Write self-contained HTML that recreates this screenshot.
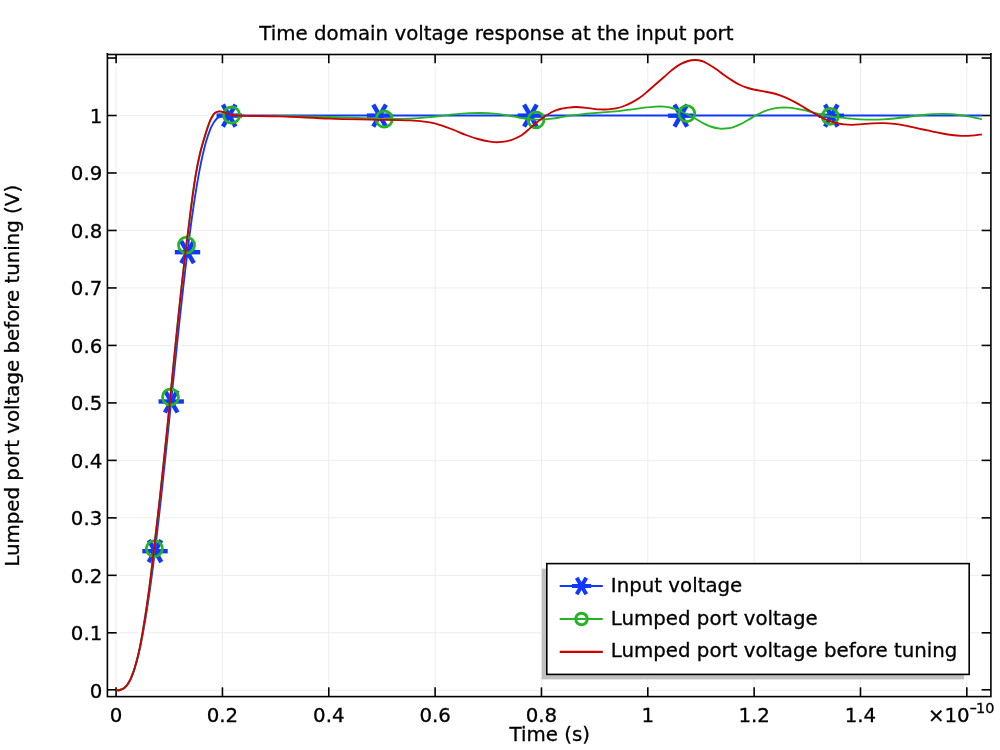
<!DOCTYPE html>
<html lang="en"><head><meta charset="utf-8"><title>Time domain voltage response at the input port</title>
<style>html,body{margin:0;padding:0;background:#fff}svg{display:block;will-change:transform}text{font-family:"DejaVu Sans","Liberation Sans",sans-serif;fill:#000;stroke:#000;stroke-width:0.3px}</style></head><body>
<svg width="1000" height="750" viewBox="0 0 1000 750">
<rect width="1000" height="750" fill="#fff"/>
<g stroke="#ededed" stroke-width="1" fill="none">
<line x1="116.10" y1="65.50" x2="116.10" y2="685.60"/>
<line x1="222.44" y1="65.50" x2="222.44" y2="685.60"/>
<line x1="328.78" y1="65.50" x2="328.78" y2="685.60"/>
<line x1="435.12" y1="65.50" x2="435.12" y2="685.60"/>
<line x1="541.46" y1="65.50" x2="541.46" y2="685.60"/>
<line x1="647.80" y1="65.50" x2="647.80" y2="685.60"/>
<line x1="754.14" y1="65.50" x2="754.14" y2="685.60"/>
<line x1="860.48" y1="65.50" x2="860.48" y2="685.60"/>
<line x1="966.82" y1="65.50" x2="966.82" y2="685.60"/>
<line x1="118.90" y1="690.30" x2="979.40" y2="690.30"/>
<line x1="118.90" y1="632.82" x2="979.40" y2="632.82"/>
<line x1="118.90" y1="575.34" x2="979.40" y2="575.34"/>
<line x1="118.90" y1="517.86" x2="979.40" y2="517.86"/>
<line x1="118.90" y1="460.38" x2="979.40" y2="460.38"/>
<line x1="118.90" y1="402.90" x2="979.40" y2="402.90"/>
<line x1="118.90" y1="345.42" x2="979.40" y2="345.42"/>
<line x1="118.90" y1="287.94" x2="979.40" y2="287.94"/>
<line x1="118.90" y1="230.46" x2="979.40" y2="230.46"/>
<line x1="118.90" y1="172.98" x2="979.40" y2="172.98"/>
<line x1="118.90" y1="115.50" x2="979.40" y2="115.50"/>
<line x1="118.90" y1="58.02" x2="979.40" y2="58.02"/>
</g>
<g fill="none" stroke="#fff" stroke-width="7" stroke-linejoin="round">
<path d="M116.10 690.30 C116.72 690.28 117.35 690.30 117.97 690.25 C118.59 690.21 119.22 690.15 119.84 690.02 C120.47 689.89 121.10 689.71 121.70 689.46 C122.36 689.19 122.99 688.86 123.57 688.46 C124.24 688.00 124.87 687.47 125.44 686.90 C126.12 686.21 126.74 685.47 127.31 684.69 C127.99 683.75 128.61 682.76 129.17 681.75 C129.85 680.53 130.47 679.28 131.04 678.01 C131.72 676.51 132.33 674.98 132.91 673.43 C133.58 671.63 134.20 669.80 134.78 667.96 C135.44 665.85 136.06 663.72 136.64 661.58 C137.31 659.14 137.93 656.70 138.51 654.25 C139.17 651.50 139.79 648.74 140.38 645.98 C141.03 642.91 141.65 639.84 142.25 636.76 C142.90 633.38 143.52 630.00 144.12 626.61 C144.76 622.93 145.38 619.24 145.98 615.55 C146.63 611.57 147.25 607.59 147.85 603.61 C148.49 599.34 149.11 595.08 149.72 590.81 C150.36 586.28 150.98 581.75 151.59 577.21 C152.23 572.43 152.85 567.64 153.45 562.85 C154.09 557.83 154.71 552.81 155.32 547.79 C155.96 542.56 156.58 537.32 157.19 532.09 C157.82 526.66 158.44 521.24 159.06 515.81 C159.69 510.22 160.31 504.62 160.93 499.03 C161.56 493.29 162.18 487.55 162.79 481.81 C163.42 475.95 164.04 470.09 164.66 464.23 C165.29 458.28 165.91 452.33 166.53 446.38 C167.15 440.36 167.78 434.35 168.40 428.33 C169.02 422.27 169.64 416.22 170.26 410.16 C170.89 404.09 171.51 398.03 172.13 391.96 C172.75 385.91 173.37 379.86 174.00 373.81 C174.62 367.80 175.24 361.80 175.87 355.79 C176.49 349.86 177.11 343.92 177.73 337.99 C178.35 332.15 178.97 326.31 179.60 320.48 C180.22 314.77 180.84 309.05 181.47 303.34 C182.08 297.78 182.71 292.22 183.34 286.65 C183.95 281.26 184.57 275.88 185.21 270.49 C185.82 265.29 186.44 260.10 187.07 254.91 C187.68 249.94 188.30 244.96 188.94 239.99 C189.55 235.25 190.17 230.51 190.81 225.78 C191.41 221.30 192.03 216.81 192.68 212.34 C193.28 208.12 193.90 203.92 194.54 199.71 C195.14 195.78 195.77 191.86 196.41 187.94 C197.01 184.31 197.63 180.68 198.28 177.06 C198.88 173.74 199.49 170.42 200.15 167.10 C200.74 164.09 201.36 161.08 202.01 158.07 C202.60 155.37 203.22 152.68 203.88 149.99 C204.47 147.61 205.09 145.23 205.75 142.86 C206.33 140.78 206.95 138.71 207.62 136.66 C208.20 134.88 208.81 133.11 209.49 131.37 C210.06 129.88 210.68 128.41 211.35 126.96 C211.92 125.75 212.54 124.55 213.22 123.40 C213.79 122.43 214.41 121.50 215.09 120.61 C215.66 119.87 216.28 119.18 216.96 118.54 C217.53 118.00 218.16 117.52 218.82 117.10 C219.41 116.73 220.04 116.43 220.69 116.19 C221.29 115.97 221.93 115.82 222.56 115.71 C223.18 115.60 223.80 115.56 224.43 115.53 C225.05 115.49 225.67 115.50 226.29 115.50 C478.16 115.49 730.03 115.50 981.90 115.50"/>
<path d="M116.10 690.30 C116.72 690.28 117.35 690.30 117.97 690.25 C118.59 690.21 119.22 690.15 119.83 690.02 C120.47 689.89 121.10 689.71 121.70 689.46 C122.35 689.19 122.98 688.86 123.56 688.46 C124.23 688.00 124.86 687.47 125.43 686.90 C126.10 686.21 126.72 685.47 127.29 684.69 C127.96 683.75 128.58 682.76 129.14 681.75 C129.82 680.53 130.43 679.28 131.00 678.01 C131.67 676.51 132.28 674.98 132.85 673.43 C133.51 671.63 134.12 669.80 134.69 667.96 C135.35 665.85 135.96 663.72 136.54 661.58 C137.19 659.14 137.81 656.70 138.38 654.25 C139.02 651.50 139.61 648.74 140.16 645.98 C140.77 642.91 141.32 639.84 141.86 636.76 C142.45 633.38 142.99 630.00 143.54 626.61 C144.15 622.93 144.75 619.24 145.33 615.55 C145.95 611.57 146.54 607.59 147.12 603.61 C147.74 599.34 148.34 595.08 148.91 590.81 C149.53 586.28 150.14 581.75 150.70 577.21 C151.29 572.43 151.85 567.64 152.39 562.85 C152.97 557.83 153.48 552.81 154.06 547.79 C154.66 542.55 155.30 537.32 155.92 532.09 C156.56 526.66 157.20 521.24 157.82 515.81 C158.47 510.22 159.10 504.62 159.73 499.03 C160.36 493.29 160.98 487.55 161.60 481.81 C162.24 475.95 162.86 470.09 163.48 464.23 C164.12 458.28 164.74 452.33 165.36 446.38 C165.99 440.36 166.63 434.35 167.24 428.33 C167.86 422.27 168.45 416.22 169.04 410.16 C169.64 404.10 170.23 398.03 170.83 391.96 C171.42 385.91 172.01 379.86 172.61 373.81 C173.20 367.80 173.79 361.80 174.39 355.79 C174.99 349.86 175.58 343.92 176.19 337.99 C176.78 332.15 177.38 326.31 177.98 320.48 C178.58 314.77 179.18 309.05 179.78 303.34 C180.38 297.78 180.97 292.22 181.58 286.65 C182.18 281.26 182.77 275.88 183.39 270.49 C183.98 265.29 184.58 260.10 185.19 254.91 C185.78 249.94 186.38 244.96 187.00 239.99 C187.59 235.25 188.22 230.52 188.81 225.78 C189.37 221.30 189.88 216.82 190.44 212.34 C190.97 208.13 191.51 203.92 192.08 199.71 C192.60 195.78 193.14 191.86 193.71 187.94 C194.24 184.31 194.76 180.68 195.36 177.06 C195.91 173.73 196.51 170.41 197.15 167.10 C197.73 164.08 198.36 161.08 199.01 158.07 C199.60 155.37 200.15 152.66 200.88 149.99 C202.48 144.17 204.22 138.38 206.00 132.60 C206.99 129.38 207.97 126.14 209.20 123.00 C210.11 120.67 211.09 118.33 212.40 116.20 C213.24 114.83 214.26 113.49 215.60 112.60 C216.76 111.83 218.21 111.47 219.60 111.40 C220.96 111.33 222.30 111.81 223.60 112.20 C224.98 112.61 226.23 113.36 227.60 113.80 C229.17 114.30 230.77 114.72 232.40 115.00 C234.25 115.32 236.13 115.47 238.00 115.60 C240.00 115.74 242.00 115.78 244.00 115.80 C256.00 115.91 268.00 115.83 280.00 116.00 C296.67 116.23 313.34 116.56 330.00 117.00 C343.34 117.36 356.67 117.91 370.00 118.40 C374.67 118.57 379.33 118.98 384.00 119.00 C392.67 119.04 401.34 118.94 410.00 118.60 C416.68 118.34 423.34 117.78 430.00 117.20 C434.01 116.85 438.00 116.27 442.00 115.80 C446.00 115.33 449.99 114.77 454.00 114.40 C459.33 113.91 464.66 113.47 470.00 113.20 C474.00 113.00 478.00 112.93 482.00 113.00 C486.00 113.07 490.01 113.23 494.00 113.60 C498.02 113.97 502.01 114.57 506.00 115.20 C510.02 115.84 513.99 116.71 518.00 117.40 C521.33 117.97 524.65 118.59 528.00 119.00 C530.65 119.32 533.33 119.53 536.00 119.60 C538.67 119.67 541.34 119.57 544.00 119.40 C546.67 119.23 549.34 118.93 552.00 118.60 C554.68 118.27 557.34 117.83 560.00 117.40 C562.67 116.97 565.33 116.43 568.00 116.00 C570.66 115.57 573.32 115.13 576.00 114.80 C578.66 114.47 581.33 114.24 584.00 114.00 C589.33 113.51 594.66 113.03 600.00 112.60 C605.33 112.17 610.68 111.93 616.00 111.40 C621.35 110.87 626.67 110.12 632.00 109.40 C636.01 108.86 639.98 108.07 644.00 107.60 C647.99 107.13 651.99 106.80 656.00 106.60 C658.66 106.47 661.34 106.37 664.00 106.60 C666.70 106.84 669.39 107.28 672.00 108.00 C674.75 108.76 677.37 109.91 680.00 111.00 C682.70 112.12 685.38 113.29 688.00 114.60 C690.72 115.96 693.35 117.51 696.00 119.00 C698.68 120.51 701.25 122.22 704.00 123.60 C706.59 124.90 709.23 126.14 712.00 127.00 C714.60 127.81 717.30 128.24 720.00 128.60 C721.32 128.78 722.67 128.71 724.00 128.60 C726.68 128.38 729.40 128.28 732.00 127.60 C734.78 126.87 737.41 125.63 740.00 124.40 C742.75 123.09 745.35 121.49 748.00 120.00 C750.68 118.49 753.29 116.86 756.00 115.40 C758.63 113.99 761.24 112.54 764.00 111.40 C766.59 110.33 769.27 109.45 772.00 108.80 C774.62 108.18 777.31 107.80 780.00 107.60 C782.66 107.40 785.34 107.43 788.00 107.60 C790.68 107.77 793.35 108.17 796.00 108.60 C798.68 109.04 801.35 109.60 804.00 110.20 C806.68 110.80 809.33 111.53 812.00 112.20 C814.67 112.87 817.33 113.56 820.00 114.20 C822.66 114.83 825.31 115.50 828.00 116.00 C830.65 116.50 833.32 116.89 836.00 117.20 C840.52 117.72 845.06 118.10 849.60 118.50 C853.06 118.80 856.53 119.13 860.00 119.30 C864.00 119.50 868.00 119.60 872.00 119.60 C875.73 119.60 879.47 119.48 883.20 119.30 C886.94 119.12 890.67 118.84 894.40 118.50 C897.61 118.21 900.80 117.80 904.00 117.40 C907.20 117.00 910.40 116.50 913.60 116.10 C916.80 115.70 919.99 115.32 923.20 115.00 C926.40 114.68 929.60 114.40 932.80 114.20 C936.00 114.00 939.20 113.80 942.40 113.80 C945.60 113.80 948.81 113.95 952.00 114.20 C955.21 114.45 958.41 114.85 961.60 115.30 C964.81 115.75 968.02 116.27 971.20 116.90 C974.79 117.61 978.33 118.50 981.90 119.30"/>
<path d="M116.10 690.30 C116.72 690.28 117.35 690.30 117.97 690.25 C118.59 690.21 119.22 690.15 119.83 690.02 C120.47 689.89 121.10 689.71 121.70 689.46 C122.35 689.19 122.98 688.86 123.56 688.46 C124.23 688.00 124.86 687.47 125.43 686.90 C126.10 686.21 126.72 685.47 127.29 684.69 C127.96 683.75 128.58 682.76 129.14 681.75 C129.82 680.53 130.43 679.28 131.00 678.01 C131.67 676.51 132.28 674.98 132.85 673.43 C133.51 671.63 134.12 669.80 134.69 667.96 C135.35 665.85 135.96 663.72 136.54 661.58 C137.19 659.14 137.81 656.70 138.38 654.25 C139.02 651.50 139.61 648.74 140.16 645.98 C140.77 642.91 141.32 639.84 141.86 636.76 C142.45 633.38 142.99 630.00 143.54 626.61 C144.15 622.93 144.75 619.24 145.33 615.55 C145.95 611.57 146.54 607.59 147.12 603.61 C147.74 599.34 148.34 595.08 148.91 590.81 C149.53 586.28 150.14 581.75 150.70 577.21 C151.29 572.43 151.85 567.64 152.39 562.85 C152.97 557.83 153.48 552.81 154.06 547.79 C154.66 542.55 155.30 537.32 155.92 532.09 C156.56 526.66 157.20 521.24 157.82 515.81 C158.47 510.22 159.10 504.62 159.73 499.03 C160.36 493.29 160.98 487.55 161.60 481.81 C162.24 475.95 162.86 470.09 163.48 464.23 C164.12 458.28 164.74 452.33 165.36 446.38 C165.99 440.36 166.63 434.35 167.24 428.33 C167.86 422.27 168.45 416.22 169.04 410.16 C169.64 404.10 170.23 398.03 170.83 391.96 C171.42 385.91 172.01 379.86 172.61 373.81 C173.20 367.80 173.79 361.80 174.39 355.79 C174.99 349.86 175.58 343.92 176.19 337.99 C176.78 332.15 177.38 326.31 177.98 320.48 C178.58 314.77 179.18 309.05 179.78 303.34 C180.38 297.78 180.97 292.22 181.58 286.65 C182.18 281.26 182.77 275.88 183.39 270.49 C183.98 265.29 184.58 260.10 185.19 254.91 C185.78 249.94 186.38 244.96 187.00 239.99 C187.59 235.25 188.22 230.52 188.81 225.78 C189.37 221.30 189.88 216.82 190.44 212.34 C190.97 208.13 191.51 203.92 192.08 199.71 C192.60 195.78 193.14 191.86 193.71 187.94 C194.24 184.31 194.76 180.68 195.36 177.06 C195.91 173.73 196.51 170.41 197.15 167.10 C197.73 164.08 198.36 161.08 199.01 158.07 C199.60 155.37 200.15 152.66 200.88 149.99 C202.48 144.17 204.22 138.38 206.00 132.60 C206.99 129.38 207.97 126.14 209.20 123.00 C210.11 120.67 211.09 118.33 212.40 116.20 C213.24 114.83 214.26 113.49 215.60 112.60 C216.76 111.83 218.21 111.47 219.60 111.40 C220.96 111.33 222.30 111.81 223.60 112.20 C224.98 112.61 226.23 113.36 227.60 113.80 C229.17 114.30 230.77 114.72 232.40 115.00 C234.25 115.32 236.13 115.49 238.00 115.60 C240.66 115.76 243.33 115.75 246.00 115.80 C257.33 116.02 268.67 116.02 280.00 116.40 C296.67 116.96 313.33 118.01 330.00 118.60 C343.33 119.07 356.67 119.30 370.00 119.60 C383.33 119.90 396.68 119.78 410.00 120.40 C416.69 120.71 423.39 121.33 430.00 122.40 C434.09 123.06 438.05 124.35 442.00 125.60 C446.06 126.89 450.03 128.45 454.00 130.00 C458.03 131.58 461.94 133.48 466.00 135.00 C469.95 136.48 473.93 137.88 478.00 139.00 C481.95 140.09 485.96 140.95 490.00 141.60 C492.64 142.02 495.33 142.23 498.00 142.20 C500.68 142.17 503.37 141.93 506.00 141.40 C508.73 140.85 511.42 140.03 514.00 139.00 C516.77 137.89 519.49 136.61 522.00 135.00 C524.19 133.59 526.02 131.69 528.00 130.00 C530.69 127.69 533.25 125.23 536.00 123.00 C538.59 120.90 541.25 118.89 544.00 117.00 C546.59 115.22 549.19 113.41 552.00 112.00 C554.55 110.73 557.25 109.76 560.00 109.00 C562.61 108.28 565.31 107.94 568.00 107.60 C570.65 107.27 573.33 107.00 576.00 107.00 C578.67 107.00 581.34 107.33 584.00 107.60 C586.67 107.87 589.33 108.30 592.00 108.60 C594.66 108.90 597.32 109.27 600.00 109.40 C602.66 109.53 605.34 109.57 608.00 109.40 C610.68 109.23 613.37 108.96 616.00 108.40 C618.72 107.82 621.39 106.98 624.00 106.00 C626.74 104.97 629.41 103.76 632.00 102.40 C634.75 100.95 637.47 99.40 640.00 97.60 C642.82 95.59 645.37 93.24 648.00 91.00 C650.70 88.71 653.33 86.33 656.00 84.00 C658.67 81.67 661.33 79.33 664.00 77.00 C666.67 74.67 669.22 72.19 672.00 70.00 C674.56 67.99 677.16 66.00 680.00 64.40 C682.53 62.98 685.22 61.82 688.00 61.00 C690.26 60.34 692.64 60.00 695.00 60.00 C697.36 60.00 699.75 60.31 702.00 61.00 C704.14 61.66 706.06 62.89 708.00 64.00 C710.73 65.56 713.41 67.22 716.00 69.00 C718.75 70.89 721.29 73.07 724.00 75.00 C726.62 76.87 729.27 78.69 732.00 80.40 C734.61 82.03 737.22 83.68 740.00 85.00 C742.57 86.22 745.28 87.15 748.00 88.00 C750.62 88.82 753.31 89.43 756.00 90.00 C758.65 90.56 761.34 90.90 764.00 91.40 C766.67 91.90 769.36 92.34 772.00 93.00 C774.70 93.68 777.37 94.48 780.00 95.40 C782.71 96.35 785.38 97.42 788.00 98.60 C790.72 99.82 793.39 101.16 796.00 102.60 C798.72 104.10 801.32 105.82 804.00 107.40 C806.65 108.96 809.33 110.47 812.00 112.00 C814.67 113.53 817.28 115.17 820.00 116.60 C822.61 117.97 825.26 119.30 828.00 120.40 C830.60 121.44 833.28 122.32 836.00 123.00 C838.63 123.66 841.31 124.10 844.00 124.40 C846.65 124.70 849.33 124.80 852.00 124.80 C854.67 124.80 857.34 124.59 860.00 124.40 C864.00 124.12 867.99 123.62 872.00 123.40 C875.73 123.19 879.47 123.02 883.20 123.10 C886.94 123.18 890.68 123.49 894.40 123.90 C897.62 124.26 900.81 124.82 904.00 125.40 C907.22 125.99 910.40 126.72 913.60 127.40 C916.80 128.08 920.00 128.80 923.20 129.50 C926.40 130.20 929.59 130.93 932.80 131.60 C935.99 132.27 939.19 132.93 942.40 133.50 C945.59 134.06 948.78 134.61 952.00 135.00 C955.19 135.38 958.39 135.62 961.60 135.80 C963.73 135.92 965.87 135.97 968.00 135.90 C970.14 135.83 972.27 135.64 974.40 135.40 C976.91 135.11 979.40 134.67 981.90 134.30"/>
</g>
<g fill="#fff">
<circle cx="155.0" cy="551.2" r="14.5"/>
<circle cx="171.2" cy="401.5" r="14.5"/>
<circle cx="187.5" cy="252.2" r="14.5"/>
<circle cx="229.2" cy="115.6" r="14.5"/>
<circle cx="379.6" cy="115.6" r="14.5"/>
<circle cx="530.4" cy="115.6" r="14.5"/>
<circle cx="680.8" cy="115.7" r="14.5"/>
<circle cx="831.3" cy="115.7" r="14.5"/>
<circle cx="154.4" cy="548.6" r="11.5"/>
<circle cx="170.5" cy="397.0" r="11.5"/>
<circle cx="186.5" cy="245.2" r="11.5"/>
<circle cx="231.6" cy="115.0" r="11.5"/>
<circle cx="384.2" cy="119.0" r="11.5"/>
<circle cx="536.0" cy="119.8" r="11.5"/>
<circle cx="686.8" cy="113.6" r="11.5"/>
<circle cx="830.2" cy="116.4" r="11.5"/>
</g>
<g stroke="#000" stroke-width="1.6" fill="none" stroke-linecap="butt">
<rect x="107.40" y="54.50" width="883.50" height="642.10"/>
<line x1="107.40" y1="52.90" x2="107.40" y2="54.50"/>
<line x1="990.90" y1="52.90" x2="990.90" y2="54.50"/>
<line x1="116.10" y1="54.50" x2="116.10" y2="63.30"/>
<line x1="116.10" y1="696.60" x2="116.10" y2="687.30"/>
<line x1="222.44" y1="54.50" x2="222.44" y2="63.30"/>
<line x1="222.44" y1="696.60" x2="222.44" y2="687.30"/>
<line x1="328.78" y1="54.50" x2="328.78" y2="63.30"/>
<line x1="328.78" y1="696.60" x2="328.78" y2="687.30"/>
<line x1="435.12" y1="54.50" x2="435.12" y2="63.30"/>
<line x1="435.12" y1="696.60" x2="435.12" y2="687.30"/>
<line x1="541.46" y1="54.50" x2="541.46" y2="63.30"/>
<line x1="541.46" y1="696.60" x2="541.46" y2="687.30"/>
<line x1="647.80" y1="54.50" x2="647.80" y2="63.30"/>
<line x1="647.80" y1="696.60" x2="647.80" y2="687.30"/>
<line x1="754.14" y1="54.50" x2="754.14" y2="63.30"/>
<line x1="754.14" y1="696.60" x2="754.14" y2="687.30"/>
<line x1="860.48" y1="54.50" x2="860.48" y2="63.30"/>
<line x1="860.48" y1="696.60" x2="860.48" y2="687.30"/>
<line x1="966.82" y1="54.50" x2="966.82" y2="63.30"/>
<line x1="966.82" y1="696.60" x2="966.82" y2="687.30"/>
<line x1="107.40" y1="689.80" x2="116.70" y2="689.80"/>
<line x1="990.90" y1="689.80" x2="981.60" y2="689.80"/>
<line x1="107.40" y1="632.82" x2="116.70" y2="632.82"/>
<line x1="990.90" y1="632.82" x2="981.60" y2="632.82"/>
<line x1="107.40" y1="575.34" x2="116.70" y2="575.34"/>
<line x1="990.90" y1="575.34" x2="981.60" y2="575.34"/>
<line x1="107.40" y1="517.86" x2="116.70" y2="517.86"/>
<line x1="990.90" y1="517.86" x2="981.60" y2="517.86"/>
<line x1="107.40" y1="460.38" x2="116.70" y2="460.38"/>
<line x1="990.90" y1="460.38" x2="981.60" y2="460.38"/>
<line x1="107.40" y1="402.90" x2="116.70" y2="402.90"/>
<line x1="990.90" y1="402.90" x2="981.60" y2="402.90"/>
<line x1="107.40" y1="345.42" x2="116.70" y2="345.42"/>
<line x1="990.90" y1="345.42" x2="981.60" y2="345.42"/>
<line x1="107.40" y1="287.94" x2="116.70" y2="287.94"/>
<line x1="990.90" y1="287.94" x2="981.60" y2="287.94"/>
<line x1="107.40" y1="230.46" x2="116.70" y2="230.46"/>
<line x1="990.90" y1="230.46" x2="981.60" y2="230.46"/>
<line x1="107.40" y1="172.98" x2="116.70" y2="172.98"/>
<line x1="990.90" y1="172.98" x2="981.60" y2="172.98"/>
<line x1="107.40" y1="115.50" x2="116.70" y2="115.50"/>
<line x1="990.90" y1="115.50" x2="981.60" y2="115.50"/>
<line x1="107.40" y1="58.02" x2="116.70" y2="58.02"/>
<line x1="990.90" y1="58.02" x2="981.60" y2="58.02"/>
</g>
<path d="M116.10 690.30 C116.72 690.28 117.35 690.30 117.97 690.25 C118.59 690.21 119.22 690.15 119.84 690.02 C120.47 689.89 121.10 689.71 121.70 689.46 C122.36 689.19 122.99 688.86 123.57 688.46 C124.24 688.00 124.87 687.47 125.44 686.90 C126.12 686.21 126.74 685.47 127.31 684.69 C127.99 683.75 128.61 682.76 129.17 681.75 C129.85 680.53 130.47 679.28 131.04 678.01 C131.72 676.51 132.33 674.98 132.91 673.43 C133.58 671.63 134.20 669.80 134.78 667.96 C135.44 665.85 136.06 663.72 136.64 661.58 C137.31 659.14 137.93 656.70 138.51 654.25 C139.17 651.50 139.79 648.74 140.38 645.98 C141.03 642.91 141.65 639.84 142.25 636.76 C142.90 633.38 143.52 630.00 144.12 626.61 C144.76 622.93 145.38 619.24 145.98 615.55 C146.63 611.57 147.25 607.59 147.85 603.61 C148.49 599.34 149.11 595.08 149.72 590.81 C150.36 586.28 150.98 581.75 151.59 577.21 C152.23 572.43 152.85 567.64 153.45 562.85 C154.09 557.83 154.71 552.81 155.32 547.79 C155.96 542.56 156.58 537.32 157.19 532.09 C157.82 526.66 158.44 521.24 159.06 515.81 C159.69 510.22 160.31 504.62 160.93 499.03 C161.56 493.29 162.18 487.55 162.79 481.81 C163.42 475.95 164.04 470.09 164.66 464.23 C165.29 458.28 165.91 452.33 166.53 446.38 C167.15 440.36 167.78 434.35 168.40 428.33 C169.02 422.27 169.64 416.22 170.26 410.16 C170.89 404.09 171.51 398.03 172.13 391.96 C172.75 385.91 173.37 379.86 174.00 373.81 C174.62 367.80 175.24 361.80 175.87 355.79 C176.49 349.86 177.11 343.92 177.73 337.99 C178.35 332.15 178.97 326.31 179.60 320.48 C180.22 314.77 180.84 309.05 181.47 303.34 C182.08 297.78 182.71 292.22 183.34 286.65 C183.95 281.26 184.57 275.88 185.21 270.49 C185.82 265.29 186.44 260.10 187.07 254.91 C187.68 249.94 188.30 244.96 188.94 239.99 C189.55 235.25 190.17 230.51 190.81 225.78 C191.41 221.30 192.03 216.81 192.68 212.34 C193.28 208.12 193.90 203.92 194.54 199.71 C195.14 195.78 195.77 191.86 196.41 187.94 C197.01 184.31 197.63 180.68 198.28 177.06 C198.88 173.74 199.49 170.42 200.15 167.10 C200.74 164.09 201.36 161.08 202.01 158.07 C202.60 155.37 203.22 152.68 203.88 149.99 C204.47 147.61 205.09 145.23 205.75 142.86 C206.33 140.78 206.95 138.71 207.62 136.66 C208.20 134.88 208.81 133.11 209.49 131.37 C210.06 129.88 210.68 128.41 211.35 126.96 C211.92 125.75 212.54 124.55 213.22 123.40 C213.79 122.43 214.41 121.50 215.09 120.61 C215.66 119.87 216.28 119.18 216.96 118.54 C217.53 118.00 218.16 117.52 218.82 117.10 C219.41 116.73 220.04 116.43 220.69 116.19 C221.29 115.97 221.93 115.82 222.56 115.71 C223.18 115.60 223.80 115.56 224.43 115.53 C225.05 115.49 225.67 115.50 226.29 115.50 C478.16 115.49 730.03 115.50 981.90 115.50" fill="none" stroke="#1038ff" stroke-width="1.85" stroke-linejoin="round"/>
<g stroke="#1038ff" stroke-width="4.4" stroke-linecap="butt"><line x1="142.30" y1="551.20" x2="167.70" y2="551.20"/><line x1="148.65" y1="540.20" x2="161.35" y2="562.20"/><line x1="161.35" y1="540.20" x2="148.65" y2="562.20"/></g>
<g stroke="#1038ff" stroke-width="4.4" stroke-linecap="butt"><line x1="158.50" y1="401.50" x2="183.90" y2="401.50"/><line x1="164.85" y1="390.50" x2="177.55" y2="412.50"/><line x1="177.55" y1="390.50" x2="164.85" y2="412.50"/></g>
<g stroke="#1038ff" stroke-width="4.4" stroke-linecap="butt"><line x1="174.80" y1="252.20" x2="200.20" y2="252.20"/><line x1="181.15" y1="241.20" x2="193.85" y2="263.20"/><line x1="193.85" y1="241.20" x2="181.15" y2="263.20"/></g>
<g stroke="#1038ff" stroke-width="4.4" stroke-linecap="butt"><line x1="216.50" y1="115.60" x2="241.90" y2="115.60"/><line x1="222.85" y1="104.60" x2="235.55" y2="126.60"/><line x1="235.55" y1="104.60" x2="222.85" y2="126.60"/></g>
<g stroke="#1038ff" stroke-width="4.4" stroke-linecap="butt"><line x1="366.90" y1="115.60" x2="392.30" y2="115.60"/><line x1="373.25" y1="104.60" x2="385.95" y2="126.60"/><line x1="385.95" y1="104.60" x2="373.25" y2="126.60"/></g>
<g stroke="#1038ff" stroke-width="4.4" stroke-linecap="butt"><line x1="517.70" y1="115.60" x2="543.10" y2="115.60"/><line x1="524.05" y1="104.60" x2="536.75" y2="126.60"/><line x1="536.75" y1="104.60" x2="524.05" y2="126.60"/></g>
<g stroke="#1038ff" stroke-width="4.4" stroke-linecap="butt"><line x1="668.10" y1="115.70" x2="693.50" y2="115.70"/><line x1="674.45" y1="104.70" x2="687.15" y2="126.70"/><line x1="687.15" y1="104.70" x2="674.45" y2="126.70"/></g>
<g stroke="#1038ff" stroke-width="4.4" stroke-linecap="butt"><line x1="818.60" y1="115.70" x2="844.00" y2="115.70"/><line x1="824.95" y1="104.70" x2="837.65" y2="126.70"/><line x1="837.65" y1="104.70" x2="824.95" y2="126.70"/></g>
<path d="M116.10 690.30 C116.72 690.28 117.35 690.30 117.97 690.25 C118.59 690.21 119.22 690.15 119.83 690.02 C120.47 689.89 121.10 689.71 121.70 689.46 C122.35 689.19 122.98 688.86 123.56 688.46 C124.23 688.00 124.86 687.47 125.43 686.90 C126.10 686.21 126.72 685.47 127.29 684.69 C127.96 683.75 128.58 682.76 129.14 681.75 C129.82 680.53 130.43 679.28 131.00 678.01 C131.67 676.51 132.28 674.98 132.85 673.43 C133.51 671.63 134.12 669.80 134.69 667.96 C135.35 665.85 135.96 663.72 136.54 661.58 C137.19 659.14 137.81 656.70 138.38 654.25 C139.02 651.50 139.61 648.74 140.16 645.98 C140.77 642.91 141.32 639.84 141.86 636.76 C142.45 633.38 142.99 630.00 143.54 626.61 C144.15 622.93 144.75 619.24 145.33 615.55 C145.95 611.57 146.54 607.59 147.12 603.61 C147.74 599.34 148.34 595.08 148.91 590.81 C149.53 586.28 150.14 581.75 150.70 577.21 C151.29 572.43 151.85 567.64 152.39 562.85 C152.97 557.83 153.48 552.81 154.06 547.79 C154.66 542.55 155.30 537.32 155.92 532.09 C156.56 526.66 157.20 521.24 157.82 515.81 C158.47 510.22 159.10 504.62 159.73 499.03 C160.36 493.29 160.98 487.55 161.60 481.81 C162.24 475.95 162.86 470.09 163.48 464.23 C164.12 458.28 164.74 452.33 165.36 446.38 C165.99 440.36 166.63 434.35 167.24 428.33 C167.86 422.27 168.45 416.22 169.04 410.16 C169.64 404.10 170.23 398.03 170.83 391.96 C171.42 385.91 172.01 379.86 172.61 373.81 C173.20 367.80 173.79 361.80 174.39 355.79 C174.99 349.86 175.58 343.92 176.19 337.99 C176.78 332.15 177.38 326.31 177.98 320.48 C178.58 314.77 179.18 309.05 179.78 303.34 C180.38 297.78 180.97 292.22 181.58 286.65 C182.18 281.26 182.77 275.88 183.39 270.49 C183.98 265.29 184.58 260.10 185.19 254.91 C185.78 249.94 186.38 244.96 187.00 239.99 C187.59 235.25 188.22 230.52 188.81 225.78 C189.37 221.30 189.88 216.82 190.44 212.34 C190.97 208.13 191.51 203.92 192.08 199.71 C192.60 195.78 193.14 191.86 193.71 187.94 C194.24 184.31 194.76 180.68 195.36 177.06 C195.91 173.73 196.51 170.41 197.15 167.10 C197.73 164.08 198.36 161.08 199.01 158.07 C199.60 155.37 200.15 152.66 200.88 149.99 C202.48 144.17 204.22 138.38 206.00 132.60 C206.99 129.38 207.97 126.14 209.20 123.00 C210.11 120.67 211.09 118.33 212.40 116.20 C213.24 114.83 214.26 113.49 215.60 112.60 C216.76 111.83 218.21 111.47 219.60 111.40 C220.96 111.33 222.30 111.81 223.60 112.20 C224.98 112.61 226.23 113.36 227.60 113.80 C229.17 114.30 230.77 114.72 232.40 115.00 C234.25 115.32 236.13 115.47 238.00 115.60 C240.00 115.74 242.00 115.78 244.00 115.80 C256.00 115.91 268.00 115.83 280.00 116.00 C296.67 116.23 313.34 116.56 330.00 117.00 C343.34 117.36 356.67 117.91 370.00 118.40 C374.67 118.57 379.33 118.98 384.00 119.00 C392.67 119.04 401.34 118.94 410.00 118.60 C416.68 118.34 423.34 117.78 430.00 117.20 C434.01 116.85 438.00 116.27 442.00 115.80 C446.00 115.33 449.99 114.77 454.00 114.40 C459.33 113.91 464.66 113.47 470.00 113.20 C474.00 113.00 478.00 112.93 482.00 113.00 C486.00 113.07 490.01 113.23 494.00 113.60 C498.02 113.97 502.01 114.57 506.00 115.20 C510.02 115.84 513.99 116.71 518.00 117.40 C521.33 117.97 524.65 118.59 528.00 119.00 C530.65 119.32 533.33 119.53 536.00 119.60 C538.67 119.67 541.34 119.57 544.00 119.40 C546.67 119.23 549.34 118.93 552.00 118.60 C554.68 118.27 557.34 117.83 560.00 117.40 C562.67 116.97 565.33 116.43 568.00 116.00 C570.66 115.57 573.32 115.13 576.00 114.80 C578.66 114.47 581.33 114.24 584.00 114.00 C589.33 113.51 594.66 113.03 600.00 112.60 C605.33 112.17 610.68 111.93 616.00 111.40 C621.35 110.87 626.67 110.12 632.00 109.40 C636.01 108.86 639.98 108.07 644.00 107.60 C647.99 107.13 651.99 106.80 656.00 106.60 C658.66 106.47 661.34 106.37 664.00 106.60 C666.70 106.84 669.39 107.28 672.00 108.00 C674.75 108.76 677.37 109.91 680.00 111.00 C682.70 112.12 685.38 113.29 688.00 114.60 C690.72 115.96 693.35 117.51 696.00 119.00 C698.68 120.51 701.25 122.22 704.00 123.60 C706.59 124.90 709.23 126.14 712.00 127.00 C714.60 127.81 717.30 128.24 720.00 128.60 C721.32 128.78 722.67 128.71 724.00 128.60 C726.68 128.38 729.40 128.28 732.00 127.60 C734.78 126.87 737.41 125.63 740.00 124.40 C742.75 123.09 745.35 121.49 748.00 120.00 C750.68 118.49 753.29 116.86 756.00 115.40 C758.63 113.99 761.24 112.54 764.00 111.40 C766.59 110.33 769.27 109.45 772.00 108.80 C774.62 108.18 777.31 107.80 780.00 107.60 C782.66 107.40 785.34 107.43 788.00 107.60 C790.68 107.77 793.35 108.17 796.00 108.60 C798.68 109.04 801.35 109.60 804.00 110.20 C806.68 110.80 809.33 111.53 812.00 112.20 C814.67 112.87 817.33 113.56 820.00 114.20 C822.66 114.83 825.31 115.50 828.00 116.00 C830.65 116.50 833.32 116.89 836.00 117.20 C840.52 117.72 845.06 118.10 849.60 118.50 C853.06 118.80 856.53 119.13 860.00 119.30 C864.00 119.50 868.00 119.60 872.00 119.60 C875.73 119.60 879.47 119.48 883.20 119.30 C886.94 119.12 890.67 118.84 894.40 118.50 C897.61 118.21 900.80 117.80 904.00 117.40 C907.20 117.00 910.40 116.50 913.60 116.10 C916.80 115.70 919.99 115.32 923.20 115.00 C926.40 114.68 929.60 114.40 932.80 114.20 C936.00 114.00 939.20 113.80 942.40 113.80 C945.60 113.80 948.81 113.95 952.00 114.20 C955.21 114.45 958.41 114.85 961.60 115.30 C964.81 115.75 968.02 116.27 971.20 116.90 C974.79 117.61 978.33 118.50 981.90 119.30" fill="none" stroke="#26b426" stroke-width="1.85" stroke-linejoin="round"/>
<circle cx="154.40" cy="548.60" r="8.00" fill="none" stroke="#26b426" stroke-width="2.8"/>
<circle cx="170.50" cy="397.00" r="8.00" fill="none" stroke="#26b426" stroke-width="2.8"/>
<circle cx="186.50" cy="245.20" r="8.00" fill="none" stroke="#26b426" stroke-width="2.8"/>
<circle cx="231.60" cy="115.00" r="8.00" fill="none" stroke="#26b426" stroke-width="2.8"/>
<circle cx="384.20" cy="119.00" r="8.00" fill="none" stroke="#26b426" stroke-width="2.8"/>
<circle cx="536.00" cy="119.80" r="8.00" fill="none" stroke="#26b426" stroke-width="2.8"/>
<circle cx="686.80" cy="113.60" r="8.00" fill="none" stroke="#26b426" stroke-width="2.8"/>
<circle cx="830.20" cy="116.40" r="8.00" fill="none" stroke="#26b426" stroke-width="2.8"/>
<path d="M116.10 690.30 C116.72 690.28 117.35 690.30 117.97 690.25 C118.59 690.21 119.22 690.15 119.83 690.02 C120.47 689.89 121.10 689.71 121.70 689.46 C122.35 689.19 122.98 688.86 123.56 688.46 C124.23 688.00 124.86 687.47 125.43 686.90 C126.10 686.21 126.72 685.47 127.29 684.69 C127.96 683.75 128.58 682.76 129.14 681.75 C129.82 680.53 130.43 679.28 131.00 678.01 C131.67 676.51 132.28 674.98 132.85 673.43 C133.51 671.63 134.12 669.80 134.69 667.96 C135.35 665.85 135.96 663.72 136.54 661.58 C137.19 659.14 137.81 656.70 138.38 654.25 C139.02 651.50 139.61 648.74 140.16 645.98 C140.77 642.91 141.32 639.84 141.86 636.76 C142.45 633.38 142.99 630.00 143.54 626.61 C144.15 622.93 144.75 619.24 145.33 615.55 C145.95 611.57 146.54 607.59 147.12 603.61 C147.74 599.34 148.34 595.08 148.91 590.81 C149.53 586.28 150.14 581.75 150.70 577.21 C151.29 572.43 151.85 567.64 152.39 562.85 C152.97 557.83 153.48 552.81 154.06 547.79 C154.66 542.55 155.30 537.32 155.92 532.09 C156.56 526.66 157.20 521.24 157.82 515.81 C158.47 510.22 159.10 504.62 159.73 499.03 C160.36 493.29 160.98 487.55 161.60 481.81 C162.24 475.95 162.86 470.09 163.48 464.23 C164.12 458.28 164.74 452.33 165.36 446.38 C165.99 440.36 166.63 434.35 167.24 428.33 C167.86 422.27 168.45 416.22 169.04 410.16 C169.64 404.10 170.23 398.03 170.83 391.96 C171.42 385.91 172.01 379.86 172.61 373.81 C173.20 367.80 173.79 361.80 174.39 355.79 C174.99 349.86 175.58 343.92 176.19 337.99 C176.78 332.15 177.38 326.31 177.98 320.48 C178.58 314.77 179.18 309.05 179.78 303.34 C180.38 297.78 180.97 292.22 181.58 286.65 C182.18 281.26 182.77 275.88 183.39 270.49 C183.98 265.29 184.58 260.10 185.19 254.91 C185.78 249.94 186.38 244.96 187.00 239.99 C187.59 235.25 188.22 230.52 188.81 225.78 C189.37 221.30 189.88 216.82 190.44 212.34 C190.97 208.13 191.51 203.92 192.08 199.71 C192.60 195.78 193.14 191.86 193.71 187.94 C194.24 184.31 194.76 180.68 195.36 177.06 C195.91 173.73 196.51 170.41 197.15 167.10 C197.73 164.08 198.36 161.08 199.01 158.07 C199.60 155.37 200.15 152.66 200.88 149.99 C202.48 144.17 204.22 138.38 206.00 132.60 C206.99 129.38 207.97 126.14 209.20 123.00 C210.11 120.67 211.09 118.33 212.40 116.20 C213.24 114.83 214.26 113.49 215.60 112.60 C216.76 111.83 218.21 111.47 219.60 111.40 C220.96 111.33 222.30 111.81 223.60 112.20 C224.98 112.61 226.23 113.36 227.60 113.80 C229.17 114.30 230.77 114.72 232.40 115.00 C234.25 115.32 236.13 115.49 238.00 115.60 C240.66 115.76 243.33 115.75 246.00 115.80 C257.33 116.02 268.67 116.02 280.00 116.40 C296.67 116.96 313.33 118.01 330.00 118.60 C343.33 119.07 356.67 119.30 370.00 119.60 C383.33 119.90 396.68 119.78 410.00 120.40 C416.69 120.71 423.39 121.33 430.00 122.40 C434.09 123.06 438.05 124.35 442.00 125.60 C446.06 126.89 450.03 128.45 454.00 130.00 C458.03 131.58 461.94 133.48 466.00 135.00 C469.95 136.48 473.93 137.88 478.00 139.00 C481.95 140.09 485.96 140.95 490.00 141.60 C492.64 142.02 495.33 142.23 498.00 142.20 C500.68 142.17 503.37 141.93 506.00 141.40 C508.73 140.85 511.42 140.03 514.00 139.00 C516.77 137.89 519.49 136.61 522.00 135.00 C524.19 133.59 526.02 131.69 528.00 130.00 C530.69 127.69 533.25 125.23 536.00 123.00 C538.59 120.90 541.25 118.89 544.00 117.00 C546.59 115.22 549.19 113.41 552.00 112.00 C554.55 110.73 557.25 109.76 560.00 109.00 C562.61 108.28 565.31 107.94 568.00 107.60 C570.65 107.27 573.33 107.00 576.00 107.00 C578.67 107.00 581.34 107.33 584.00 107.60 C586.67 107.87 589.33 108.30 592.00 108.60 C594.66 108.90 597.32 109.27 600.00 109.40 C602.66 109.53 605.34 109.57 608.00 109.40 C610.68 109.23 613.37 108.96 616.00 108.40 C618.72 107.82 621.39 106.98 624.00 106.00 C626.74 104.97 629.41 103.76 632.00 102.40 C634.75 100.95 637.47 99.40 640.00 97.60 C642.82 95.59 645.37 93.24 648.00 91.00 C650.70 88.71 653.33 86.33 656.00 84.00 C658.67 81.67 661.33 79.33 664.00 77.00 C666.67 74.67 669.22 72.19 672.00 70.00 C674.56 67.99 677.16 66.00 680.00 64.40 C682.53 62.98 685.22 61.82 688.00 61.00 C690.26 60.34 692.64 60.00 695.00 60.00 C697.36 60.00 699.75 60.31 702.00 61.00 C704.14 61.66 706.06 62.89 708.00 64.00 C710.73 65.56 713.41 67.22 716.00 69.00 C718.75 70.89 721.29 73.07 724.00 75.00 C726.62 76.87 729.27 78.69 732.00 80.40 C734.61 82.03 737.22 83.68 740.00 85.00 C742.57 86.22 745.28 87.15 748.00 88.00 C750.62 88.82 753.31 89.43 756.00 90.00 C758.65 90.56 761.34 90.90 764.00 91.40 C766.67 91.90 769.36 92.34 772.00 93.00 C774.70 93.68 777.37 94.48 780.00 95.40 C782.71 96.35 785.38 97.42 788.00 98.60 C790.72 99.82 793.39 101.16 796.00 102.60 C798.72 104.10 801.32 105.82 804.00 107.40 C806.65 108.96 809.33 110.47 812.00 112.00 C814.67 113.53 817.28 115.17 820.00 116.60 C822.61 117.97 825.26 119.30 828.00 120.40 C830.60 121.44 833.28 122.32 836.00 123.00 C838.63 123.66 841.31 124.10 844.00 124.40 C846.65 124.70 849.33 124.80 852.00 124.80 C854.67 124.80 857.34 124.59 860.00 124.40 C864.00 124.12 867.99 123.62 872.00 123.40 C875.73 123.19 879.47 123.02 883.20 123.10 C886.94 123.18 890.68 123.49 894.40 123.90 C897.62 124.26 900.81 124.82 904.00 125.40 C907.22 125.99 910.40 126.72 913.60 127.40 C916.80 128.08 920.00 128.80 923.20 129.50 C926.40 130.20 929.59 130.93 932.80 131.60 C935.99 132.27 939.19 132.93 942.40 133.50 C945.59 134.06 948.78 134.61 952.00 135.00 C955.19 135.38 958.39 135.62 961.60 135.80 C963.73 135.92 965.87 135.97 968.00 135.90 C970.14 135.83 972.27 135.64 974.40 135.40 C976.91 135.11 979.40 134.67 981.90 134.30" fill="none" stroke="#cc0000" stroke-width="1.85" stroke-linejoin="round"/>
<rect x="541.80" y="568.60" width="422.40" height="110.80" fill="#c0c0c0"/>
<rect x="546.80" y="563.60" width="422.40" height="110.80" fill="#fff" stroke="#000" stroke-width="1.6"/>
<line x1="559.7" y1="586.0" x2="602.8" y2="586.0" stroke="#1038ff" stroke-width="2.2"/>
<g stroke="#1038ff" stroke-width="4.0" stroke-linecap="butt"><line x1="571.90" y1="586.00" x2="591.10" y2="586.00"/><line x1="576.70" y1="577.69" x2="586.30" y2="594.31"/><line x1="586.30" y1="577.69" x2="576.70" y2="594.31"/></g>
<line x1="559.7" y1="619.0" x2="602.8" y2="619.0" stroke="#26b426" stroke-width="2.2"/>
<circle cx="581.50" cy="619.00" r="5.75" fill="none" stroke="#26b426" stroke-width="3.0"/>
<line x1="559.7" y1="651.8" x2="602.8" y2="651.8" stroke="#cc0000" stroke-width="2.2"/>
<text transform="translate(610.80,591.60) scale(1,1.020)" font-size="19.80" text-anchor="start">Input voltage</text>
<text transform="translate(610.80,624.60) scale(1,1.020)" font-size="19.80" text-anchor="start">Lumped port voltage</text>
<text transform="translate(610.80,657.40) scale(1,1.020)" font-size="19.80" text-anchor="start">Lumped port voltage before tuning</text>
<text transform="translate(116.10,722.40) scale(1,1.020)" font-size="19.80" text-anchor="middle">0</text>
<text transform="translate(222.44,722.40) scale(1,1.020)" font-size="19.80" text-anchor="middle">0.2</text>
<text transform="translate(328.78,722.40) scale(1,1.020)" font-size="19.80" text-anchor="middle">0.4</text>
<text transform="translate(435.12,722.40) scale(1,1.020)" font-size="19.80" text-anchor="middle">0.6</text>
<text transform="translate(541.46,722.40) scale(1,1.020)" font-size="19.80" text-anchor="middle">0.8</text>
<text transform="translate(647.80,722.40) scale(1,1.020)" font-size="19.80" text-anchor="middle">1</text>
<text transform="translate(754.14,722.40) scale(1,1.020)" font-size="19.80" text-anchor="middle">1.2</text>
<text transform="translate(860.48,722.40) scale(1,1.020)" font-size="19.80" text-anchor="middle">1.4</text>
<text transform="translate(102.30,697.70) scale(1,1.020)" font-size="19.80" text-anchor="end">0</text>
<text transform="translate(102.30,640.22) scale(1,1.020)" font-size="19.80" text-anchor="end">0.1</text>
<text transform="translate(102.30,582.74) scale(1,1.020)" font-size="19.80" text-anchor="end">0.2</text>
<text transform="translate(102.30,525.26) scale(1,1.020)" font-size="19.80" text-anchor="end">0.3</text>
<text transform="translate(102.30,467.78) scale(1,1.020)" font-size="19.80" text-anchor="end">0.4</text>
<text transform="translate(102.30,410.30) scale(1,1.020)" font-size="19.80" text-anchor="end">0.5</text>
<text transform="translate(102.30,352.82) scale(1,1.020)" font-size="19.80" text-anchor="end">0.6</text>
<text transform="translate(102.30,295.34) scale(1,1.020)" font-size="19.80" text-anchor="end">0.7</text>
<text transform="translate(102.30,237.86) scale(1,1.020)" font-size="19.80" text-anchor="end">0.8</text>
<text transform="translate(102.30,180.38) scale(1,1.020)" font-size="19.80" text-anchor="end">0.9</text>
<text transform="translate(102.30,122.90) scale(1,1.020)" font-size="19.80" text-anchor="end">1</text>
<text transform="translate(927.90,722.40) scale(1,1.020)" font-size="19.80" text-anchor="start">×10</text>
<text transform="translate(969.6,712.6) scale(1.45,1)" font-size="14.5">-</text>
<text transform="translate(976.00,712.60) scale(1,1.020)" font-size="14.50" text-anchor="start">10</text>
<text transform="translate(549.80,740.70) scale(1,1.020)" font-size="19.80" text-anchor="middle">Time (s)</text>
<text transform="translate(496.40,39.90) scale(1,1.020)" font-size="19.80" text-anchor="middle">Time domain voltage response at the input port</text>
<text transform="translate(19.20,375.80) rotate(-90) scale(1,1.020)" font-size="19.80" text-anchor="middle">Lumped port voltage before tuning (V)</text>
</svg></body></html>
